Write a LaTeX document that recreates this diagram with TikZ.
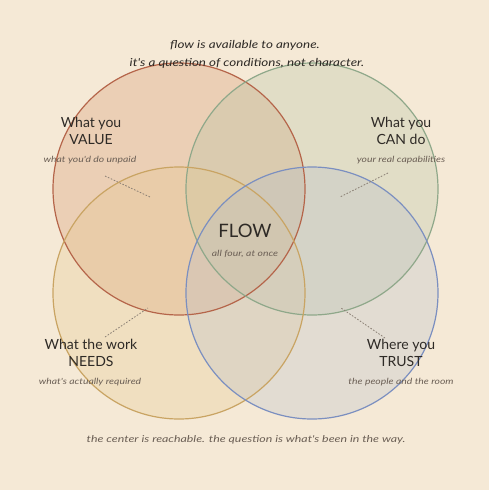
\documentclass[tikz,border=0pt]{standalone}
\usepackage{fontspec}
\setmainfont{Lato}
\newfontfamily\widef[FakeStretch=1.22]{Lato}
\newfontfamily\widerf[FakeStretch=1.3]{Lato}
\begin{document}
\begin{tikzpicture}[x=1pt,y=-1pt,
  circ/.style={circle,inner sep=0pt,minimum size=252pt,fill opacity=0.3},
  lab/.style={font=\fontsize{14}{17}\selectfont,text=ink,align=center},
  sub/.style={font=\widef\itshape\fontsize{8.5}{10}\selectfont,text=subc},
  lead/.style={draw=leadc,dash pattern=on 1.6pt off 1.6pt,line width=0.8pt}]
\definecolor{bg}{HTML}{F5E9D6}
\definecolor{ink}{HTML}{2E2A26}
\definecolor{subc}{HTML}{6B5F55}
\definecolor{leadc}{HTML}{8A7F74}
\definecolor{redS}{HTML}{B5654A}
\definecolor{redF}{HTML}{D4946A}
\definecolor{grnS}{HTML}{8FA88A}
\definecolor{grnF}{HTML}{B5C4A4}
\definecolor{golS}{HTML}{C9A463}
\definecolor{golF}{HTML}{E5C890}
\definecolor{bluS}{HTML}{7B8FC0}
\definecolor{bluF}{HTML}{B8BECC}
\fill[bg] (0,0) rectangle (489,490);
\useasboundingbox (0,0) rectangle (489,490);
% fills
\node[circ,fill=redF] (value) at (179,189) {};
\node[circ,fill=grnF] (can) at (312,189) {};
\node[circ,fill=golF] (needs) at (179,293) {};
\node[circ,fill=bluF] (trust) at (312,293) {};
% strokes
\draw[redS,line width=1.2pt] (value) circle (126);
\draw[grnS,line width=1.2pt] (can) circle (126);
\draw[golS,line width=1.2pt] (needs) circle (126);
\draw[bluS,line width=1.2pt] (trust) circle (126);
% titles
\node[font=\widef\itshape\fontsize{11}{13}\selectfont,text=ink] (t1) at (245,45) {flow is available to anyone.};
\node[font=\widef\itshape\fontsize{11}{13}\selectfont,text=ink] (t2) at (247,63) {it's a question of conditions, not character.};
% labels
\node[lab] (lv) at (91,131) {What you\\VALUE};
\node[sub] (sv) at (90,160) {what you'd do unpaid};
\node[lab] (lc) at (401,131) {What you\\CAN do};
\node[sub] (sc) at (401,160) {your real capabilities};
\node[lab] (ln) at (91,353) {What the work\\NEEDS};
\node[sub] (sn) at (90,382) {what's actually required};
\node[lab] (lt) at (401,353) {Where you\\TRUST};
\node[sub] (st) at (401,382) {the people and the room};
\node[font=\fontsize{18.5}{22}\selectfont,text=ink] (flow) at (245,231) {FLOW};
\node[sub] (sf) at (245,254) {all four, at once};
\node[font=\widerf\itshape\fontsize{9.5}{11}\selectfont,text=subc] (bot) at (246,440) {the center is reachable. the question is what's been in the way.};
% leaders
\coordinate (a1) at (105,176); \coordinate (a2) at (150,197);
\coordinate (b1) at (388,173); \coordinate (b2) at (340,197);
\coordinate (c1) at (105,337); \coordinate (c2) at (148,308);
\coordinate (d1) at (385,338); \coordinate (d2) at (341,308);
\draw[lead] (a1) -- (a2);
\draw[lead] (b1) -- (b2);
\draw[lead] (c1) -- (c2);
\draw[lead] (d1) -- (d2);
\end{tikzpicture}
\end{document}
